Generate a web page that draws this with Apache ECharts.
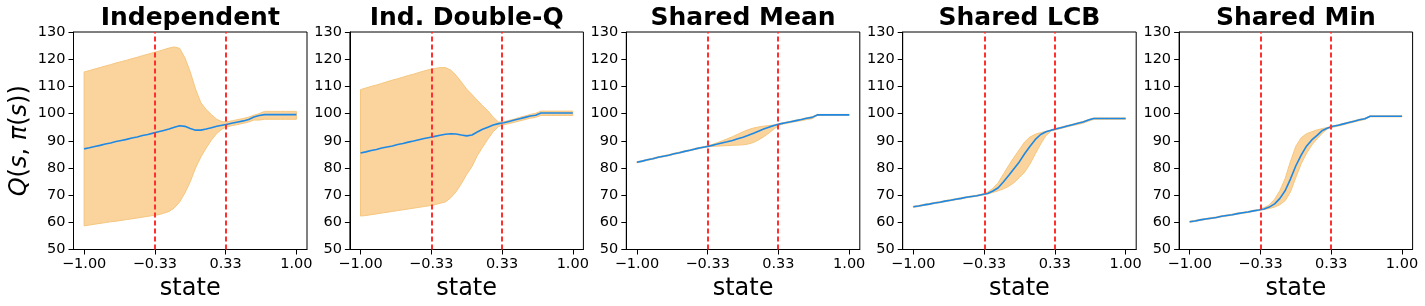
<!DOCTYPE html>
<html>
<head>
<meta charset="utf-8">
<script src="https://cdn.jsdelivr.net/npm/echarts@6/dist/echarts.min.js"></script>
<style>
html,body{margin:0;padding:0;background:#fff;}
#c{width:1425px;height:306px;}
</style>
</head>
<body>
<div id="c"></div>
<script>
// ---------------- data ----------------
const states = [-1,-0.95,-0.9,-0.85,-0.8,-0.75,-0.7,-0.65,-0.6,-0.55,-0.5,-0.45,-0.4,-0.35,-0.3,-0.25,-0.2,-0.15,-0.1,-0.05,0,0.05,0.1,0.15,0.2,0.25,0.3,0.35,0.4,0.45,0.5,0.55,0.6,0.65,0.7,0.75,0.8,0.85,0.9,0.95,1];

const titles = ['Independent', 'Ind. Double-Q', 'Shared Mean', 'Shared LCB', 'Shared Min'];

const xTickValues = [-1, -1/3, 1/3, 1];
const boundaries = [-1/3, 1/3];
const yMin = 50, yMax = 130, yStep = 10;

// Independent
const indMean  = [87.0,87.4,87.9,88.3,88.8,89.2,89.7,90.1,90.5,91.0,91.4,91.9,92.3,92.8,93.3,93.8,94.3,95.0,95.5,95.3,94.5,93.9,93.9,94.3,94.8,95.3,95.7,96.1,96.5,96.9,97.3,97.8,98.7,99.3,99.6,99.6,99.6,99.6,99.6,99.6,99.6];
const indUpper = [115.3,115.8,116.4,116.9,117.5,118.0,118.6,119.1,119.6,120.2,120.7,121.3,121.8,122.4,122.9,123.5,124.1,124.5,124.0,120.5,115.3,109.0,104.0,101.5,99.6,97.9,97.0,97.0,97.4,97.8,98.2,98.7,99.4,100.0,100.8,100.8,100.8,100.8,100.8,100.8,100.8];
const indLower = [58.7,59.0,59.3,59.6,59.9,60.2,60.4,60.7,61.0,61.3,61.6,61.9,62.2,62.5,62.8,63.3,64.0,65.3,67.5,70.8,74.9,80.0,84.0,87.3,90.3,92.7,94.3,95.2,95.6,96.0,96.4,96.9,97.6,97.6,97.9,97.9,97.9,97.9,97.9,97.9,97.9];

// Ind. Double-Q
const dqMean  = [85.5,85.9,86.4,86.8,87.3,87.7,88.1,88.6,89.0,89.5,89.9,90.4,90.8,91.2,91.6,92.0,92.4,92.6,92.5,92.1,91.8,92.1,93.2,94.2,95.0,95.8,96.3,96.6,97.1,97.6,98.1,98.6,99.1,99.4,100.2,100.2,100.2,100.2,100.2,100.2,100.2];
const dqUpper = [108.8,109.4,110.0,110.5,111.1,111.7,112.3,112.8,113.4,114.0,114.5,115.1,115.7,116.2,116.6,116.9,116.9,116.0,114.1,111.6,109.0,107.0,104.9,102.9,101.0,98.7,96.9,97.0,97.5,98.0,98.6,99.1,99.7,100.1,100.9,100.9,100.9,100.9,100.9,100.9,100.9];
const dqLower = [62.3,62.5,62.8,63.1,63.4,63.7,64.0,64.3,64.6,64.9,65.2,65.5,65.8,66.1,66.5,67.0,67.5,69.0,71.2,74.2,77.6,80.5,84.5,87.6,90.6,93.3,95.2,95.9,96.3,96.8,97.3,97.8,98.3,98.6,99.3,99.3,99.3,99.3,99.3,99.3,99.3];

// Shared Mean
const meanMean  = [82.1,82.5,83.0,83.4,83.9,84.3,84.7,85.2,85.6,86.1,86.5,87.0,87.4,87.8,88.2,88.7,89.2,89.6,90.1,90.7,91.3,92.0,92.8,93.6,94.4,95.1,95.7,96.2,96.6,97.0,97.4,97.8,98.3,98.6,99.5,99.5,99.5,99.5,99.5,99.5,99.5];
const meanUpper = [82.3,82.7,83.2,83.6,84.1,84.5,84.9,85.4,85.8,86.3,86.7,87.2,87.6,88.0,88.5,89.2,89.9,90.7,91.5,92.4,93.3,94.1,94.7,95.1,95.4,95.6,95.9,96.4,96.8,97.2,97.6,98.0,98.5,98.8,99.7,99.7,99.7,99.7,99.7,99.7,99.7];
const meanLower = [81.9,82.3,82.8,83.2,83.7,84.1,84.5,85.0,85.4,85.9,86.3,86.8,87.2,87.6,87.9,88.0,88.1,88.2,88.3,88.4,88.5,88.8,89.4,90.4,91.6,93.0,94.6,95.9,96.3,96.7,97.1,97.4,97.8,98.1,99.3,99.3,99.3,99.3,99.3,99.3,99.3];

// Shared LCB
const lcbMean  = [65.7,66.0,66.4,66.7,67.1,67.4,67.8,68.1,68.5,68.8,69.2,69.5,69.8,70.2,70.6,71.5,72.7,74.9,77.3,79.8,82.3,85.3,88.0,90.5,92.3,93.3,93.9,94.4,94.9,95.4,95.9,96.4,96.9,97.6,98.2,98.2,98.2,98.2,98.2,98.2,98.2];
const lcbUpper = [65.9,66.2,66.6,66.9,67.3,67.6,68.0,68.3,68.7,69.0,69.4,69.7,70.0,70.4,71.1,72.5,74.6,77.8,81.0,84.0,86.8,89.6,91.4,92.4,93.0,93.5,94.0,94.6,95.1,95.6,96.1,96.6,97.1,97.8,98.4,98.4,98.4,98.4,98.4,98.4,98.4];
const lcbLower = [65.5,65.8,66.2,66.5,66.9,67.2,67.6,67.9,68.3,68.6,69.0,69.3,69.6,70.0,70.4,71.0,71.6,72.3,73.3,74.6,76.5,78.5,81.5,85.2,88.8,91.9,93.6,94.1,94.6,95.1,95.6,96.0,96.5,97.2,97.9,97.9,97.9,97.9,97.9,97.9,97.9];

// Shared Min
const minMean  = [60.2,60.5,60.9,61.2,61.5,61.8,62.2,62.5,62.8,63.2,63.5,63.8,64.2,64.5,64.9,65.6,66.8,68.8,71.7,76.0,80.8,84.7,88.0,90.3,92.0,93.8,94.7,95.3,95.7,96.2,96.7,97.2,97.7,98.1,99.0,99.0,99.0,99.0,99.0,99.0,99.0];
const minUpper = [60.4,60.7,61.1,61.4,61.7,62.0,62.4,62.7,63.0,63.4,63.7,64.0,64.4,64.7,65.4,66.4,68.5,71.7,76.2,82.5,88.0,91.1,92.6,93.3,94.0,94.5,94.9,95.5,95.9,96.4,96.9,97.4,97.9,98.3,99.2,99.2,99.2,99.2,99.2,99.2,99.2];
const minLower = [60.0,60.3,60.7,61.0,61.3,61.6,62.0,62.3,62.6,63.0,63.3,63.6,64.0,64.3,64.7,65.1,65.6,66.5,68.0,71.2,76.5,81.5,85.3,88.4,90.7,92.8,94.4,95.0,95.4,95.9,96.4,96.9,97.4,97.8,98.8,98.8,98.8,98.8,98.8,98.8,98.8];

// ---------------- chart ----------------
const panels = [
  {title: titles[0], mean: indMean,  lower: indLower,  upper: indUpper},
  {title: titles[1], mean: dqMean,   lower: dqLower,   upper: dqUpper},
  {title: titles[2], mean: meanMean, lower: meanLower, upper: meanUpper},
  {title: titles[3], mean: lcbMean,  lower: lcbLower,  upper: lcbUpper},
  {title: titles[4], mean: minMean,  lower: minLower,  upper: minUpper}
];

const FONT = 'DejaVu Sans';
const GRID_TOP = 32, GRID_H = 217.5, GRID_W = 233.5;
const gridLeft = i => 73.5 + i * 276.4;

const bandFill = '#FAD49C';
const bandEdge = '#F6C67F';
const lineColor = '#1E88E5';
const redColor = '#FF3030';

function fmtX(v) {
  const s = Math.abs(v).toFixed(2);
  return (v < 0 ? '\u2212' : '') + s;
}

const grids = [], xAxes = [], yAxes = [], series = [], graphics = [];

panels.forEach((p, i) => {
  grids.push({
    left: gridLeft(i), top: GRID_TOP, width: GRID_W, height: GRID_H,
    show: true, borderColor: '#000', borderWidth: 1, backgroundColor: 'rgba(0,0,0,0)',
    containLabel: false, outerBoundsMode: 'none'
  });
  xAxes.push({
    gridIndex: i, type: 'value', min: -1.1, max: 1.1,
    axisLine: {show: true, onZero: false, lineStyle: {color: '#000', width: 1}},
    axisTick: {show: true, inside: false, length: 5, customValues: xTickValues, lineStyle: {color: '#000', width: 1}},
    axisLabel: {show: true, customValues: xTickValues, formatter: fmtX, fontSize: 14.5, fontFamily: FONT, color: '#000', margin: 7},
    splitLine: {show: false},
    name: 'state', nameLocation: 'middle', nameGap: 26,
    nameTextStyle: {fontSize: 24, fontFamily: FONT, color: '#000'}
  });
  const ya = {
    gridIndex: i, type: 'value', min: yMin, max: yMax, interval: yStep,
    axisLine: {show: true, onZero: false, lineStyle: {color: '#000', width: 1}},
    axisTick: {show: true, inside: false, length: 5, lineStyle: {color: '#000', width: 1}},
    axisLabel: {show: true, fontSize: 14.5, fontFamily: FONT, color: '#000', margin: 8},
    splitLine: {show: false}
  };
  if (i === 0) {
    ya.name = '{i|Q}({i|s}, {i|\u03C0}({i|s}))';
    ya.nameLocation = 'middle';
    ya.nameRotate = 90;
    ya.nameGap = 42;
    ya.nameTextStyle = {
      fontSize: 24, fontFamily: FONT, color: '#000',
      rich: {i: {fontSize: 24, fontFamily: FONT, fontStyle: 'italic', color: '#000'}}
    };
  }
  yAxes.push(ya);

  const lower = p.lower, upper = p.upper;
  series.push({
    type: 'custom', xAxisIndex: i, yAxisIndex: i, silent: true, z: 1,
    clip: true, animation: false,
    data: states.map((s, k) => [s, lower[k], upper[k]]),
    encode: {x: 0, y: [1, 2]},
    renderItem: function (params, api) {
      if (params.dataIndex !== 0) return null;
      const top = states.map((s, k) => api.coord([s, upper[k]]));
      const bot = states.map((s, k) => api.coord([s, lower[k]])).reverse();
      return {
        type: 'polygon',
        shape: {points: top.concat(bot)},
        style: {fill: bandFill, stroke: bandEdge, lineWidth: 1}
      };
    }
  });

  series.push({
    type: 'line', xAxisIndex: i, yAxisIndex: i, z: 3,
    data: states.map((s, k) => [s, p.mean[k]]),
    showSymbol: false, symbol: 'none', smooth: false, animation: false, silent: true,
    lineStyle: {color: lineColor, width: 1.6},
    markLine: {
      silent: true, symbol: ['none', 'none'], animation: false,
      label: {show: false},
      lineStyle: {color: redColor, width: 2, type: [5, 3]},
      data: boundaries.map(b => ({xAxis: b}))
    }
  });

  graphics.push({
    type: 'text', x: gridLeft(i) + GRID_W / 2, y: 6,
    style: {text: p.title, textAlign: 'center', textVerticalAlign: 'top',
            fontSize: 25, fontWeight: 'bold', fontFamily: FONT, fill: '#000'}
  });
});

const chart = echarts.init(document.getElementById('c'), null, {renderer: 'canvas'});
chart.setOption({
  backgroundColor: '#fff',
  animation: false,
  grid: grids,
  xAxis: xAxes,
  yAxis: yAxes,
  series: series,
  graphic: graphics
});
</script>
</body>
</html>
